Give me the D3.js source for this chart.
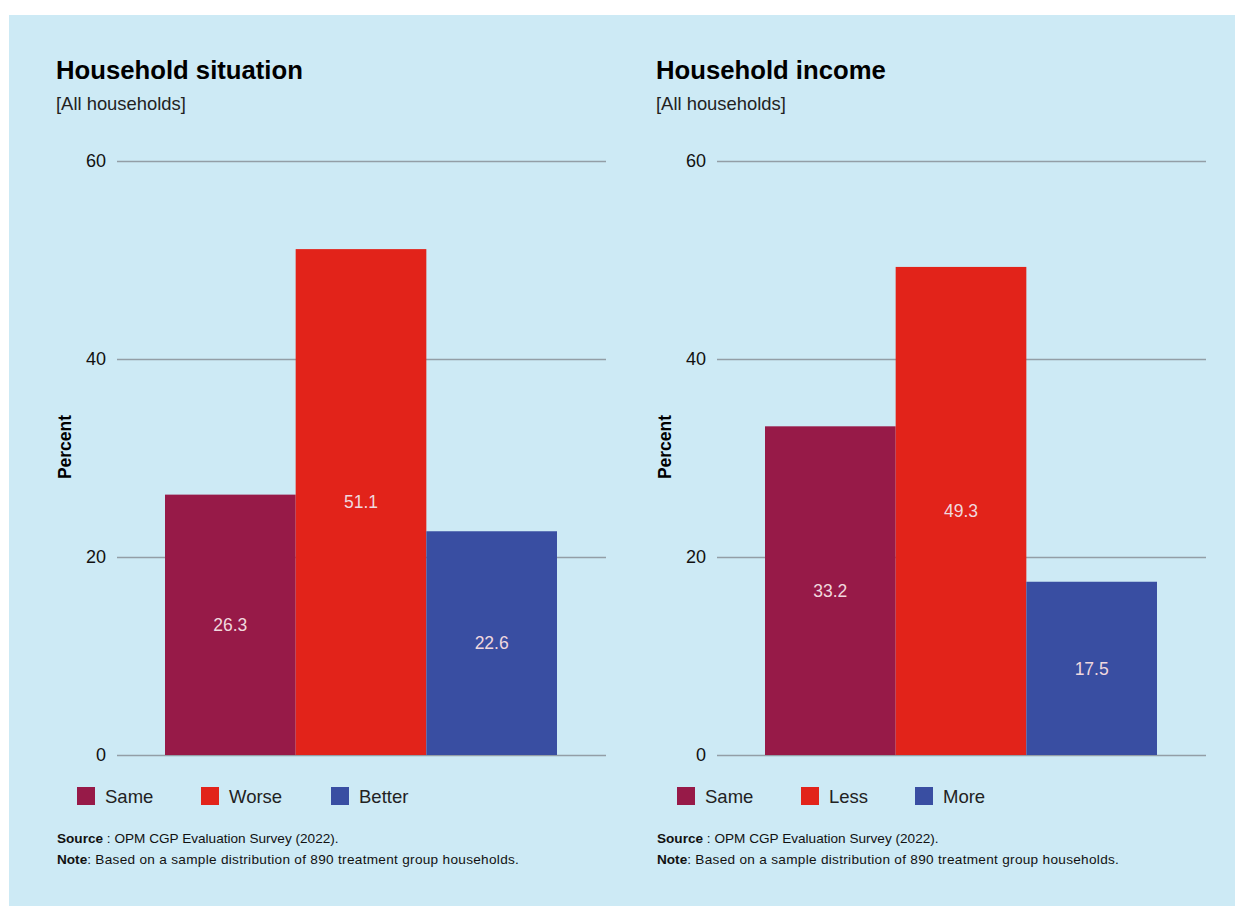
<!DOCTYPE html>
<html>
<head>
<meta charset="utf-8">
<script src="https://cdn.jsdelivr.net/npm/d3@7"></script>
<style>
  html, body { margin: 0; padding: 0; background: #ffffff; }
  svg { display: block; }
  text { font-family: "Liberation Sans", Arial, sans-serif; }
</style>
</head>
<body>
<svg id="chart" width="1235" height="906"></svg>
<script>
// Survey results: share of treatment group households (%)
const yTicks = [0, 20, 40, 60];

const situationCategories = ["Same", "Worse", "Better"];
const situationValues = [26.3, 51.1, 22.6];

const incomeCategories = ["Same", "Less", "More"];
const incomeValues = [33.2, 49.3, 17.5];

const barColors = ["#971a48", "#e2231a", "#394ea2"];

const panels = [
  { title: "Household situation", subtitle: "[All households]", categories: situationCategories, values: situationValues, offsetX: 0, legendX: [77, 201, 331] },
  { title: "Household income", subtitle: "[All households]", categories: incomeCategories, values: incomeValues, offsetX: 600, legendX: [77, 201, 315] }
];

const svg = d3.select("#chart");

// light blue backdrop
svg.append("rect")
  .attr("x", 9).attr("y", 15)
  .attr("width", 1226).attr("height", 891)
  .attr("fill", "#cdeaf5");

panels.forEach(p => {
  const g = svg.append("g").attr("transform", `translate(${p.offsetX},0)`);

  const y = d3.scaleLinear().domain([0, 60]).range([755, 161]);
  const x = d3.scaleBand().domain(p.categories).range([165, 557]).paddingInner(0).paddingOuter(0);
  const color = d3.scaleOrdinal().domain(p.categories).range(barColors);

  // title + subtitle
  g.append("text")
    .attr("x", 56).attr("y", 79)
    .attr("font-size", 25.7).attr("font-weight", "bold").attr("fill", "#000")
    .text(p.title);
  g.append("text")
    .attr("x", 56).attr("y", 110)
    .attr("font-size", 18.4).attr("fill", "#222")
    .text(p.subtitle);

  // gridlines and tick labels
  const axis = d3.axisLeft(y).tickValues(yTicks).tickSize(-(606 - 117)).tickPadding(11).tickFormat(d3.format("d"));
  const ax = g.append("g").attr("transform", "translate(117,0)").call(axis);
  ax.select(".domain").remove();
  ax.selectAll(".tick line").attr("stroke", "#939ea6").attr("stroke-width", 1.3);
  ax.selectAll(".tick text")
    .attr("font-size", 18).attr("fill", "#111")
    .style("font-family", "'Liberation Sans', Arial, sans-serif");

  // bars
  g.selectAll("rect.bar")
    .data(p.values)
    .join("rect")
    .attr("class", "bar")
    .attr("x", (d, i) => x(p.categories[i]))
    .attr("width", x.bandwidth())
    .attr("y", d => y(d))
    .attr("height", d => y(0) - y(d))
    .attr("fill", (d, i) => color(p.categories[i]));

  // value labels centred inside bars
  g.selectAll("text.val")
    .data(p.values)
    .join("text")
    .attr("class", "val")
    .attr("x", (d, i) => x(p.categories[i]) + x.bandwidth() / 2)
    .attr("y", d => (y(d) + y(0)) / 2)
    .attr("dy", "0.35em")
    .attr("text-anchor", "middle")
    .attr("font-size", 17.5).attr("fill", "#f0d8de")
    .text(d => d.toFixed(1));

  // y-axis title
  g.append("text")
    .attr("transform", "translate(71,447) rotate(-90)")
    .attr("text-anchor", "middle")
    .attr("font-size", 17.5).attr("font-weight", "bold").attr("fill", "#000")
    .text("Percent");

  // legend
  const leg = g.selectAll("g.leg")
    .data(p.categories)
    .join("g")
    .attr("class", "leg")
    .attr("transform", (d, i) => `translate(${p.legendX[i]},787)`);
  leg.append("rect").attr("width", 18).attr("height", 18).attr("fill", d => color(d));
  leg.append("text")
    .attr("x", 28).attr("y", 15.5)
    .attr("font-size", 18.5).attr("fill", "#222")
    .text(d => d);

  // source and note
  const src = g.append("text").attr("x", 57).attr("y", 843).attr("font-size", 13.6).attr("fill", "#111");
  src.append("tspan").attr("font-weight", "bold").text("Source");
  src.append("tspan").text(" : OPM CGP Evaluation Survey (2022).");
  const note = g.append("text").attr("x", 57).attr("y", 864).attr("font-size", 13.6).attr("fill", "#111");
  note.append("tspan").attr("font-weight", "bold").text("Note");
  note.append("tspan").attr("letter-spacing", 0.3).text(": Based on a sample distribution of 890 treatment group households.");
});
</script>
</body>
</html>
